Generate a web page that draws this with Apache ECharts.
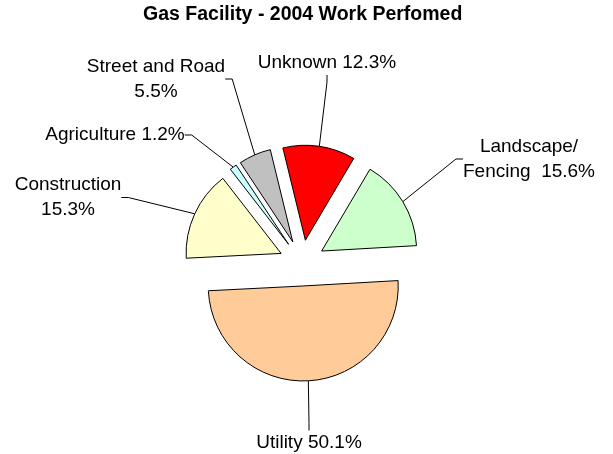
<!DOCTYPE html>
<html>
<head>
<meta charset="utf-8">
<script src="https://cdn.jsdelivr.net/npm/echarts@6/dist/echarts.min.js"></script>
<style>
  html, body { margin: 0; padding: 0; background: #fff; }
  #chart { width: 613px; height: 454px; }
</style>
</head>
<body>
<div id="chart"></div>
<script>
// Work performed on gas facilities in 2004, share of jobs by category
const categories = ['Unknown', 'Landscape/\nFencing', 'Utility', 'Construction', 'Agriculture', 'Street and Road'];
const shares = [12.3, 15.6, 50.1, 15.3, 1.2, 5.5];
const separators = [' ', '  ', ' ', '\n', ' ', '\n'];
const sliceColors = ['#FF0000', '#CCFFCC', '#FFCC99', '#FFFFCC', '#CCFFFF', '#C0C0C0'];

// Where each label block is centred
const labelSpots = [
  [327, 62.5], [529, 159], [309, 443], [68, 197.5], [115, 135], [156, 79]
];

const PIE_CENTER = [302, 263];
const PIE_RADIUS = 95;
const START_ANGLE = 103.7;   // degrees, counter-clockwise from 3 o'clock
const EXPLODE = 23;          // distance every slice is pulled out

const total = shares.reduce((a, b) => a + b, 0);
const FONT = 'Liberation Sans, Arial, sans-serif';

// One pie layer per slice so that each slice can be pulled out along its own
// bisector; the other slices of the layer are left invisible.
function sliceLayer(k) {
  const before = shares.slice(0, k).reduce((a, b) => a + b, 0);
  const midDeg = START_ANGLE - (before + shares[k] / 2) / total * 360;
  const mid = midDeg * Math.PI / 180;
  const center = [PIE_CENTER[0] + EXPLODE * Math.cos(mid), PIE_CENTER[1] - EXPLODE * Math.sin(mid)];
  return {
    type: 'pie',
    center: center,
    radius: PIE_RADIUS,
    startAngle: START_ANGLE,
    clockwise: true,
    avoidLabelOverlap: false,
    silent: true,
    emphasis: { disabled: true, scale: false },
    labelLayout: (params) => {
      const spot = labelSpots[params.dataIndex];
      return { x: spot[0], y: spot[1], align: 'center', verticalAlign: 'middle' };
    },
    data: categories.map((name, i) => {
      const shown = i === k;
      return {
        name: name,
        value: shares[i],
        itemStyle: shown
          ? { color: sliceColors[i], borderColor: '#000', borderWidth: 1 }
          : { color: 'rgba(0,0,0,0)', borderWidth: 0 },
        label: {
          show: shown,
          position: 'outside',
          fontFamily: FONT,
          fontSize: 19,
          lineHeight: 25,
          color: '#000',
          align: 'center',
          formatter: (p) => categories[p.dataIndex] + separators[p.dataIndex] + shares[p.dataIndex].toFixed(1) + '%'
        },
        labelLine: {
          show: shown,
          length: 10,
          length2: 7,
          lineStyle: { color: '#000', width: 1 }
        }
      };
    })
  };
}

const chart = echarts.init(document.getElementById('chart'), null, { renderer: 'canvas' });

chart.setOption({
  animation: false,
  backgroundColor: '#ffffff',
  title: {
    text: 'Gas Facility - 2004 Work Perfomed',
    left: 143,
    top: 5,
    padding: 0,
    textStyle: {
      fontFamily: FONT,
      fontSize: 19.5,
      fontWeight: 'bold',
      lineHeight: 20,
      color: '#000'
    }
  },
  series: categories.map((_, k) => sliceLayer(k))
});
</script>
</body>
</html>
